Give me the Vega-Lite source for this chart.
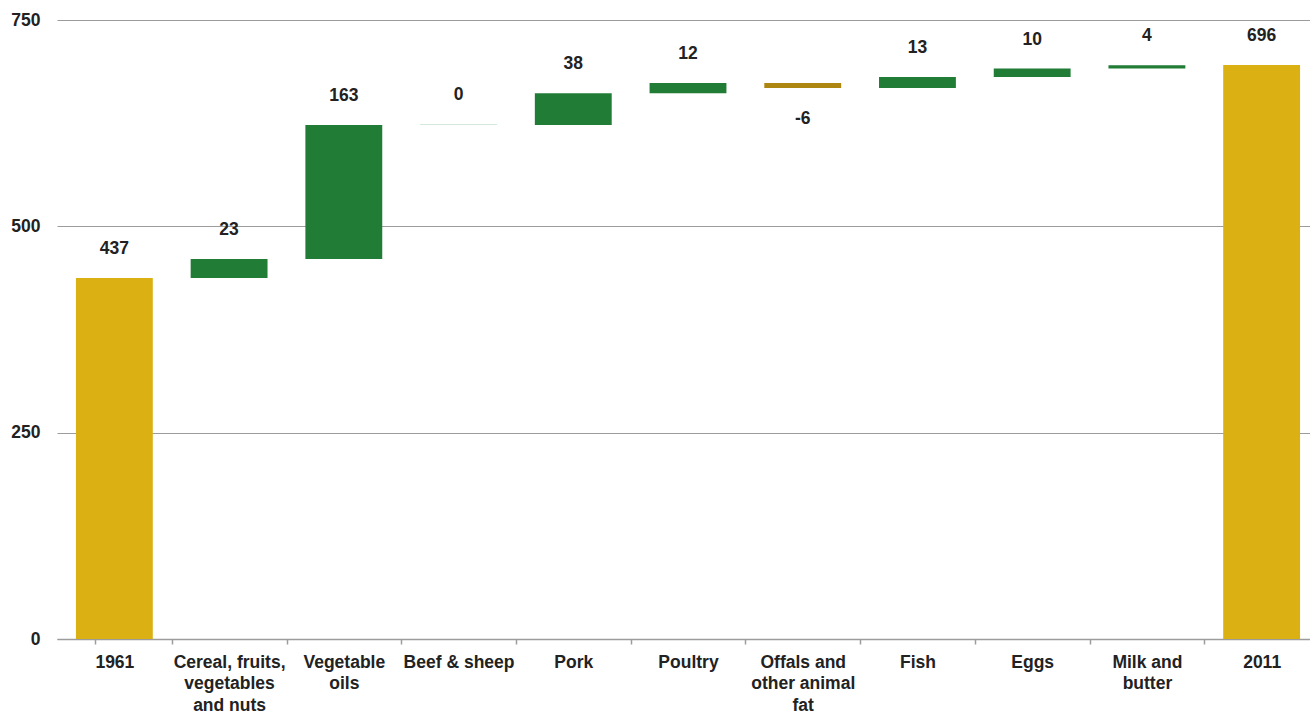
{
  "$schema": "https://vega.github.io/schema/vega-lite/v6.json",
  "width": 1253,
  "height": 619,
  "autosize": {"type": "none"},
  "padding": {"left": 57, "top": 20, "right": 0, "bottom": 76},
  "background": "white",
  "config": {
    "view": {"stroke": null},
    "font": "Liberation Sans"
  },
  "data": {
    "values": [
      {"category": "1961", "start": 0, "end": 437.4, "label": "437", "kind": "total"},
      {"category": "Cereal, fruits, vegetables and nuts", "start": 437.4, "end": 460.4, "label": "23", "kind": "up"},
      {"category": "Vegetable oils", "start": 460.4, "end": 622.8, "label": "163", "kind": "up"},
      {"category": "Beef & sheep", "start": 622.8, "end": 623.9, "label": "0", "kind": "zero"},
      {"category": "Pork", "start": 622.8, "end": 661.2, "label": "38", "kind": "up"},
      {"category": "Poultry", "start": 661.2, "end": 673.6, "label": "12", "kind": "up"},
      {"category": "Offals and other animal fat", "start": 673.6, "end": 667.6, "label": "-6", "kind": "down"},
      {"category": "Fish", "start": 667.6, "end": 681.0, "label": "13", "kind": "up"},
      {"category": "Eggs", "start": 681.0, "end": 691.2, "label": "10", "kind": "up"},
      {"category": "Milk and butter", "start": 691.2, "end": 695.3, "label": "4", "kind": "up"},
      {"category": "2011", "start": 0, "end": 695.5, "label": "696", "kind": "total"}
    ]
  },
  "encoding": {
    "x": {
      "field": "category",
      "type": "nominal",
      "sort": null,
      "scale": {"range": [0, 1262], "paddingInner": 0.33, "paddingOuter": 0.165},
      "axis": {
        "title": null,
        "labelAngle": 0,
        "labelFont": "Liberation Sans",
        "labelFontSize": 17.5,
        "labelFontWeight": "bold",
        "labelColor": "#222222",
        "labelLineHeight": 21.5,
        "labelPadding": 9,
        "labelBaseline": "top",
        "labelLimit": 200,
        "labelOffset": -19,
        "tickSize": 5,
        "tickColor": "#9c9c9c",
        "tickWidth": 1.5,
        "bandPosition": 1,
        "tickExtra": true,
        "tickOffset": 19,
        "domainColor": "#9c9c9c",
        "domainWidth": 1.5,
        "grid": false,
        "labelExpr": "datum.value == 'Cereal, fruits, vegetables and nuts' ? ['Cereal, fruits,', 'vegetables', 'and nuts'] : datum.value == 'Vegetable oils' ? ['Vegetable', 'oils'] : datum.value == 'Offals and other animal fat' ? ['Offals and', 'other animal', 'fat'] : datum.value == 'Milk and butter' ? ['Milk and', 'butter'] : datum.value"
      }
    }
  },
  "layer": [
    {
      "mark": {"type": "bar"},
      "encoding": {
        "y": {
          "field": "start",
          "type": "quantitative",
          "scale": {"domain": [0, 750], "nice": false},
          "axis": {
            "title": null,
            "values": [0, 250, 500, 750],
            "labelFont": "Liberation Sans",
            "labelFontSize": 17.5,
            "labelFontWeight": "bold",
            "labelColor": "#222222",
            "labelPadding": 17,
            "ticks": false,
            "domain": false,
            "grid": true,
            "gridColor": "#9c9c9c",
            "gridWidth": 1
          }
        },
        "y2": {"field": "end"},
        "color": {
          "field": "kind",
          "type": "nominal",
          "scale": {
            "domain": ["total", "up", "down", "zero"],
            "range": ["#dbb013", "#217d36", "#ad8612", "#d3e9d9"]
          },
          "legend": null
        }
      }
    },
    {
      "transform": [{"filter": "datum.kind != 'down'"}],
      "mark": {"type": "text", "dy": -29, "baseline": "middle", "align": "center", "font": "Liberation Sans", "fontSize": 17.5, "fontWeight": "bold", "color": "#222222"},
      "encoding": {
        "y": {"field": "end", "type": "quantitative"},
        "text": {"field": "label"}
      }
    },
    {
      "transform": [{"filter": "datum.kind == 'down'"}],
      "mark": {"type": "text", "dy": 31, "baseline": "middle", "align": "center", "font": "Liberation Sans", "fontSize": 17.5, "fontWeight": "bold", "color": "#222222"},
      "encoding": {
        "y": {"field": "end", "type": "quantitative"},
        "text": {"field": "label"}
      }
    }
  ]
}
